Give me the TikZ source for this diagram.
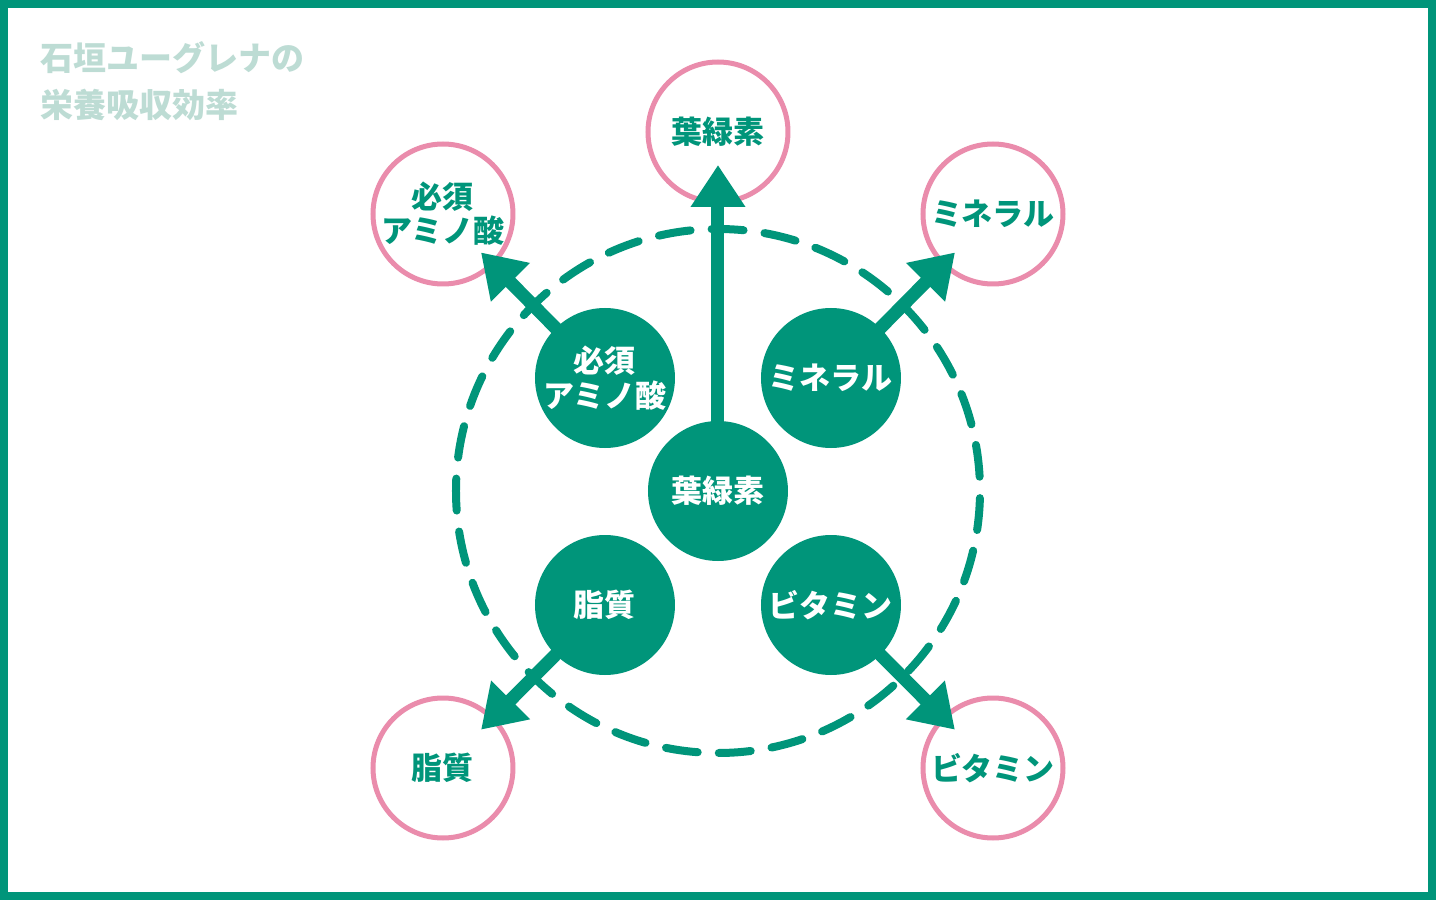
\documentclass[tikz,border=0pt]{standalone}
\usepackage{fontspec}
\setmainfont{Noto Sans CJK JP}
\usepackage{tikz}
\usetikzlibrary{arrows.meta}
\definecolor{euglena}{HTML}{00957A}
\definecolor{ring}{HTML}{EA8CAC}
\definecolor{pale}{HTML}{BDDCD4}
\tikzset{
inner_ball/.style={circle, fill=euglena, text=white, font=\bfseries\fontsize{31}{35}\selectfont, minimum size=140pt, inner sep=0pt, align=center},
outer_ring/.style={circle, draw=ring, line width=5pt, text=euglena, font=\bfseries\fontsize{31}{34}\selectfont, minimum size=140pt, inner sep=0pt, align=center},
absorb_arrow/.style={draw=euglena, line width=13pt, -{Triangle[length=42pt,width=52pt]}, shorten <=66pt},
dash_ring/.style={draw=euglena, line width=8pt, line cap=round, dash pattern=on 32pt off 21.1pt, dash phase=38.8pt},
title_text/.style={text=pale, font=\bfseries\fontsize{33}{47}\selectfont, inner sep=0pt, align=left, anchor=west}
}

\begin{document}
\begin{tikzpicture}[x=1pt, y=1pt]
    \fill[euglena] (-718,-409) rectangle (718,491);
    \fill[white] (-710,-401) rectangle (710,483);
    \node[title_text] (title) at (-678,410) {石垣ユーグレナの\\栄養吸収効率};

    \node[outer_ring] (leaf_out) at (0,359) {葉緑素};
    \node[outer_ring] (amino_out) at (-275,277) {必須\\アミノ酸};
    \node[outer_ring] (mineral_out) at (275,277) {ミネラル};
    \node[outer_ring] (lipid_out) at (-275,-277) {脂質};
    \node[outer_ring] (vitamin_out) at (275,-277) {ビタミン};

    \draw[dash_ring] (0,0) circle[radius=262pt];

    \node[inner_ball] (leaf_in) at (0,0) {葉緑素};
    \node[inner_ball] (amino_in) at (-113,113) {必須\\アミノ酸};
    \node[inner_ball] (mineral_in) at (113,113) {ミネラル};
    \node[inner_ball] (lipid_in) at (-113,-114) {脂質};
    \node[inner_ball] (vitamin_in) at (113,-114) {ビタミン};

    \draw[absorb_arrow, shorten >=33pt] (leaf_in.center) -- (leaf_out.center);
    \draw[absorb_arrow, shorten >=54pt] (amino_in.center) -- (amino_out.center);
    \draw[absorb_arrow, shorten >=54pt] (mineral_in.center) -- (mineral_out.center);
    \draw[absorb_arrow, shorten >=54pt] (lipid_in.center) -- (lipid_out.center);
    \draw[absorb_arrow, shorten >=54pt] (vitamin_in.center) -- (vitamin_out.center);
\end{tikzpicture}
\end{document}
